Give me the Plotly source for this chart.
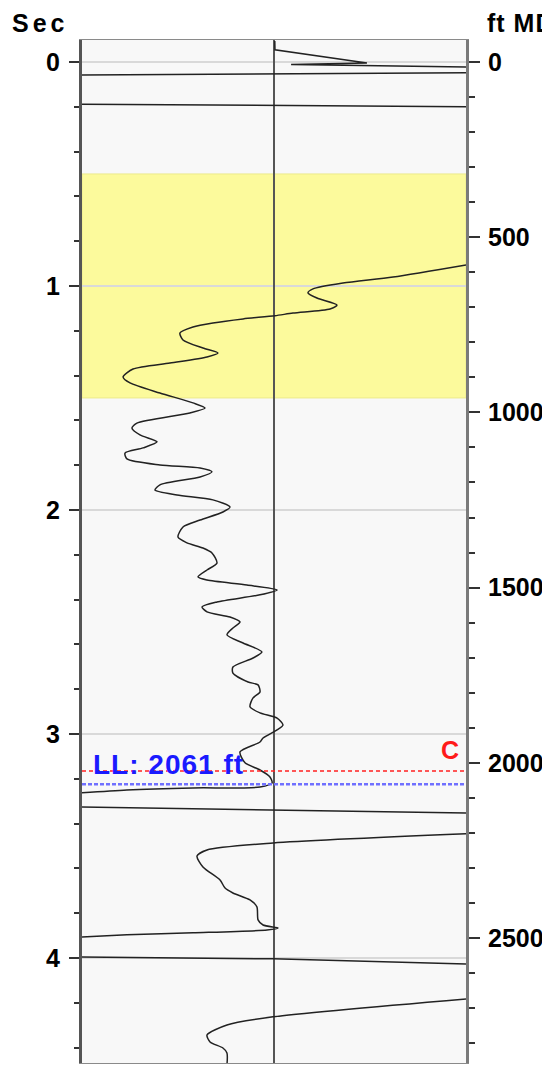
import plotly.graph_objects as go

# ---------------- data ----------------
# Synthetic trace, wrapped display. Amplitude in % of track half-width, time in seconds.
top_t = [-0.094, -0.054, 0.0045, 0.0112, 0.0223]
top_a = [0.4, 0.5, 48.4, 8.9, 100]

wrap1_t = [0.058, 0.048]
wrap1_a = [-100, 100]
wrap2_t = [0.189, 0.1996]
wrap2_a = [-100, 100]

main_t = [0.906, 0.960, 0.987, 1.013, 1.031, 1.054, 1.085, 1.103, 1.121, 1.133,
          1.147, 1.165, 1.183, 1.210, 1.241, 1.277, 1.299, 1.317, 1.344, 1.371,
          1.406, 1.433, 1.478, 1.522, 1.545, 1.567, 1.612, 1.634, 1.665, 1.696,
          1.723, 1.746, 1.772, 1.799, 1.813, 1.830, 1.853, 1.888, 1.911, 1.933,
          1.955, 1.987, 2.009, 2.045, 2.076, 2.121, 2.147, 2.170, 2.192, 2.237,
          2.268, 2.299, 2.313, 2.335, 2.357, 2.379, 2.411, 2.433, 2.455, 2.478,
          2.500, 2.527, 2.558, 2.594, 2.634, 2.661, 2.701, 2.728, 2.768, 2.781,
          2.813, 2.839, 2.879, 2.906, 2.929, 2.960, 2.982, 3.018, 3.036, 3.080,
          3.129, 3.161, 3.192, 3.219, 3.237, 3.241, 3.250, 3.263]
main_a = [100, 62.0, 35.9, 20.3, 17.7, 22.4, 32.8, 29.2, 9.9, 0.5,
          -16.1, -31.8, -42.2, -49.0, -47.4, -37.0, -29.2, -34.9, -54.2, -73.4,
          -78.6, -75.0, -59.4, -42.2, -35.9, -43.8, -71.4, -74.0, -69.8, -60.9,
          -68.2, -77.6, -76.6, -59.4, -38.5, -32.3, -38.5, -59.4, -62.0, -50.5,
          -31.8, -22.9, -26.6, -38.5, -47.4, -50.0, -45.3, -37.0, -32.3, -29.7,
          -34.9, -39.6, -34.9, -14.1, 1.6, -7.3, -29.7, -37.5, -34.9, -22.9,
          -17.7, -21.4, -24.5, -16.1, -6.3, -10.9, -21.4, -21.4, -13.5, -8.3,
          -7.3, -10.9, -12.5, -7.3, 1.6, 4.7, 1.6, -5.7, -7.3, -17.7,
          -15.1, -7.3, -2.1, -1.0, -7.3, -42.2, -76.6, -100]

wrap3_t = [3.326, 3.353]
wrap3_a = [-100, 100]

low1_t = [3.446, 3.487, 3.518, 3.545, 3.594, 3.652, 3.688, 3.710, 3.741, 3.772,
          3.830, 3.853, 3.866, 3.875, 3.888, 3.897, 3.906]
low1_a = [100, -0.5, -34.9, -40.1, -37.0, -28.1, -25.5, -21.4, -12.5, -8.9,
          -8.3, -5.7, 2.1, -3.6, -42.2, -76.6, -100]

wrap4_t = [3.996, 4.004, 4.027]
wrap4_a = [-100, -0.5, 100]

low2_t = [4.183, 4.263, 4.299, 4.344, 4.375, 4.402, 4.424, 4.478]
low2_a = [100, -0.5, -24.5, -34.9, -33.3, -26.6, -24.5, -24.5]

zone_top_sec, zone_bot_sec = 0.5, 1.5
marker_c_sec = 3.165
ll_ft = 2061
ll_label = "LL: 2061 ft"
c_label = "C"

sec_ticks = [0, 1, 2, 3, 4]
ft_ticks = [0, 500, 1000, 1500, 2000, 2500]

# ---------------- figure ----------------
FONT = "Liberation Sans"
fig = go.Figure()

linear_segs = [(top_t, top_a), (wrap1_t, wrap1_a), (wrap2_t, wrap2_a),
               (wrap3_t, wrap3_a), (wrap4_t, wrap4_a)]
spline_segs = [(main_t, main_a), (low1_t, low1_a), (low2_t, low2_a)]

for t, a in linear_segs:
    fig.add_trace(go.Scatter(x=a, y=t, mode="lines", xaxis="x", yaxis="y",
                             line=dict(color="#222222", width=1.5),
                             showlegend=False, hoverinfo="skip"))
for t, a in spline_segs:
    fig.add_trace(go.Scatter(x=a, y=t, mode="lines", xaxis="x", yaxis="y",
                             line=dict(color="#222222", width=1.5, shape="spline", smoothing=0.7),
                             showlegend=False, hoverinfo="skip"))

# red marker line (seconds)
fig.add_trace(go.Scatter(x=[-100, 100], y=[marker_c_sec, marker_c_sec], mode="lines",
                         xaxis="x", yaxis="y",
                         line=dict(color="#ff2020", width=1.5, dash="4px,3px"),
                         showlegend=False, hoverinfo="skip"))
# blue LL line (feet MD)
fig.add_trace(go.Scatter(x=[-100, 100], y=[ll_ft, ll_ft], mode="lines",
                         xaxis="x", yaxis="y2",
                         line=dict(color="#7070ff", width=2.6, dash="4px,2px"),
                         showlegend=False, hoverinfo="skip"))

tickfont = dict(family=FONT, size=25, color="black", weight="bold")

# page body adds an 8px margin; compensate so the plot lands where the reference has it
fig.update_layout(
    width=542, height=1058,
    margin=dict(l=74, r=84, t=32, b=3),
    paper_bgcolor="white",
    plot_bgcolor="#f8f8f8",
    xaxis=dict(range=[-100, 100], showticklabels=False, showgrid=False,
               zeroline=True, zerolinecolor="#555555", zerolinewidth=2,
               showline=True, linecolor="#8a8a8a", linewidth=1, mirror=True,
               ticks="", fixedrange=True),
    yaxis=dict(range=[4.469, -0.098], tickmode="array", tickvals=sec_ticks,
               ticktext=[str(v) for v in sec_ticks],
               ticks="outside", ticklen=10, tickwidth=1.5, tickcolor="#333333",
               minor=dict(dtick=0.2, tick0=0, ticks="outside", ticklen=5,
                          tickwidth=1.5, tickcolor="#333333", showgrid=False),
               showgrid=True, gridcolor="#d9d9d9", gridwidth=1.5,
               zeroline=False, showline=True, linecolor="#555555", linewidth=3,
               tickfont=tickfont, ticklabelstandoff=4, fixedrange=True),
    yaxis2=dict(range=[2856.7, -62.8], overlaying="y", side="right", anchor="x",
                tickmode="array", tickvals=ft_ticks, ticktext=[str(v) for v in ft_ticks],
                ticks="outside", ticklen=11, tickwidth=1.5, tickcolor="#333333",
                minor=dict(dtick=100, tick0=0, ticks="outside", ticklen=6,
                           tickwidth=1.5, tickcolor="#333333", showgrid=False),
                showgrid=False, zeroline=False, showline=True,
                linecolor="#7a7a7a", linewidth=3,
                tickfont=tickfont, ticklabelstandoff=3, fixedrange=True),
    shapes=[
        dict(type="rect", xref="paper", yref="y", x0=0, x1=1,
             y0=zone_top_sec, y1=zone_bot_sec, fillcolor="#fcfa9c",
             line=dict(color="#ecea8c", width=1), layer="below"),
    ],
    annotations=[
        dict(text='<span style="letter-spacing:4px">Sec</span>', xref="paper", yref="paper",
             x=-0.1875, y=1.0166, xanchor="left", yanchor="middle", showarrow=False,
             font=dict(family=FONT, size=25, color="black", weight="bold")),
        dict(text='<span style="letter-spacing:1px">ft MD</span>', xref="paper", yref="paper",
             x=1.0495, y=1.0166, xanchor="left", yanchor="middle", showarrow=False,
             font=dict(family=FONT, size=25, color="black", weight="bold")),
        dict(text=f'<span style="letter-spacing:1px">{ll_label}</span>', xref="paper", yref="y",
             x=0.024, y=3.135, xanchor="left", yanchor="middle", showarrow=False,
             font=dict(family=FONT, size=28, color="#1a1aff", weight="bold")),
        dict(text=c_label, xref="paper", yref="y",
             x=0.958, y=3.071, xanchor="center", yanchor="middle", showarrow=False,
             font=dict(family=FONT, size=25, color="#ff1a1a", weight="bold")),
    ],
)

fig.write_html("out.html")
